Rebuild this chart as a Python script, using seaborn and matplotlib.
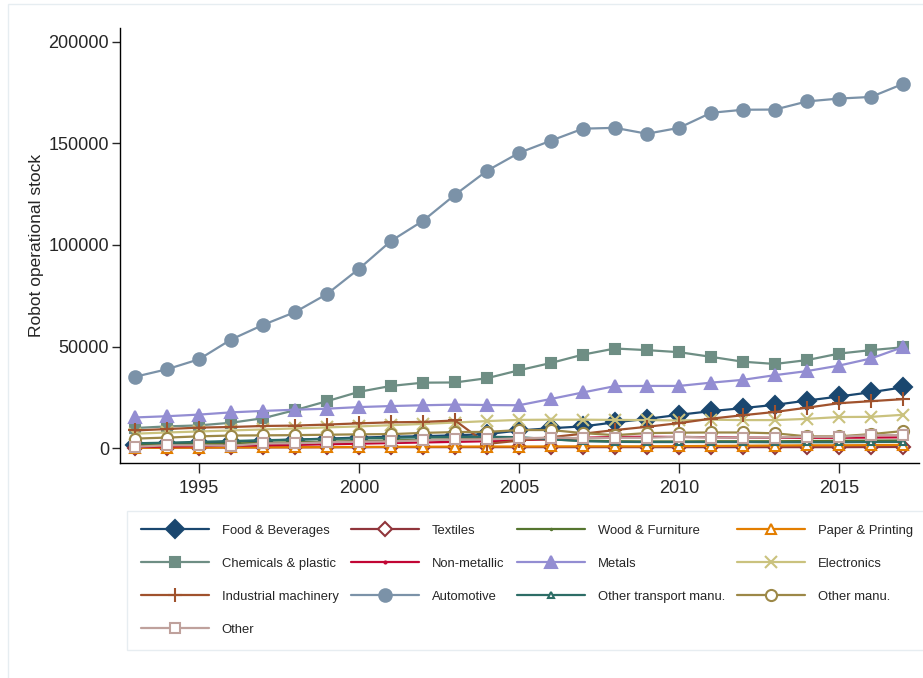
import numpy as np
import pandas as pd
import matplotlib
matplotlib.use("Agg")
import matplotlib.pyplot as plt
from matplotlib.patches import Rectangle
import seaborn as sns

# robot operational stock by industry, 1993-2017
years = list(range(1993, 2018))

food = [1800, 2300, 2800, 3300, 3800, 4300, 4800, 5300, 5700, 6000, 6400, 7000, 8800,
        9900, 10800, 12800, 14500, 16500, 18300, 19800, 21400, 23500, 25500, 27600, 30000]
textiles = [300, 350, 400, 450, 500, 500, 550, 550, 600, 600, 600, 600, 600,
            600, 600, 600, 600, 600, 600, 600, 600, 600, 600, 650, 700]
wood = [1500, 1800, 2100, 2400, 2700, 3000, 3300, 3600, 3900, 4200, 4500, 4700, 4500,
        4300, 3800, 3500, 3400, 3400, 3500, 3500, 3500, 3600, 3700, 3800, 3900]
paper = [300, 350, 400, 450, 500, 550, 600, 700, 750, 800, 850, 900, 900,
         950, 1000, 1000, 1000, 1100, 1200, 1300, 1400, 1500, 1500, 1600, 1700]
chemicals = [10000, 10800, 11300, 12600, 14800, 18800, 23200, 27800, 30700, 32300, 32400, 34500, 38400,
             42000, 46100, 49100, 48300, 47300, 45000, 42600, 41500, 43400, 46600, 48300, 49700]
nonmetallic = [700, 900, 1100, 1300, 1500, 1700, 2000, 2300, 2600, 2900, 3200, 3500, 4000,
               4600, 5200, 5600, 5700, 5600, 5500, 5300, 5200, 5200, 5200, 5300, 5400]
metals = [15200, 15800, 16600, 17700, 18400, 19000, 19500, 20300, 20800, 21200, 21500, 21300, 21200,
          24300, 27500, 30600, 30700, 30700, 32300, 33700, 36000, 38000, 40700, 44200, 49800]
electronics = [7200, 7800, 8300, 8800, 9300, 9800, 10300, 10800, 11400, 12000, 12700, 13400, 14000,
               14100, 14100, 14000, 13900, 13700, 14100, 13900, 13900, 14500, 15400, 15500, 16500]
machinery = [8800, 9500, 10200, 10500, 11000, 11200, 11700, 12300, 12800, 13000, 13700, 2200, 3800,
             5500, 7200, 9000, 10600, 12400, 14600, 16300, 17900, 20000, 22200, 23200, 24200]
automotive = [35200, 38900, 43800, 53500, 60700, 67000, 75900, 88300, 102000, 111900, 124700, 136500, 145300,
              151300, 157200, 157600, 154700, 157600, 165000, 166500, 166600, 170600, 172000, 172800, 179200]
other_transport = [2500, 2800, 3200, 3600, 4000, 4300, 4600, 4900, 5200, 5400, 5600, 5700, 5500,
                   4500, 3500, 3200, 3100, 3100, 3100, 3100, 3000, 3000, 3000, 3100, 3200]
other_manu = [4800, 5300, 5900, 6300, 6400, 6500, 6700, 6900, 7000, 7600, 8000, 8100, 9000,
              9000, 7500, 6500, 7500, 7700, 7800, 7800, 7400, 5900, 5900, 7000, 8500]
other = [800, 1500, 1500, 1300, 2400, 2500, 3000, 3300, 3400, 4000, 4400, 4400, 4900,
         5300, 5000, 5200, 5200, 5700, 5300, 5300, 5300, 5700, 5700, 6500, 6500]

labels = ["Food & Beverages", "Textiles", "Wood & Furniture", "Paper & Printing",
          "Chemicals & plastic", "Non-metallic", "Metals", "Electronics",
          "Industrial machinery", "Automotive", "Other transport manu.", "Other manu.", "Other"]
values = [food, textiles, wood, paper, chemicals, nonmetallic, metals, electronics,
          machinery, automotive, other_transport, other_manu, other]

# stata s2color look
colors = ["#1a476f", "#90353b", "#55752f", "#e37e00", "#6e8e84", "#c10534", "#938dd2",
          "#cac27e", "#a0522d", "#7b92a8", "#2d6d66", "#9c8847", "#bfa19c"]
# (marker, size, filled)
markers = [("D", 9, True), ("D", 7, False), (".", 2, True), ("^", 7, False),
           ("s", 7.5, True), (".", 3, True), ("^", 9, True), ("x", 8, True),
           ("+", 10, True), ("o", 9, True), ("^", 5, False), ("o", 8, False), ("s", 7.5, False)]

sns.set_style("ticks")
plt.rcParams["font.family"] = ["Liberation Sans", "DejaVu Sans"]

fig = plt.figure(figsize=(9.23, 6.78), dpi=100)
ax = fig.add_axes([120 / 923, 1 - 463 / 678, (919 - 120) / 923, (463 - 28) / 678])

for lab, vals, col, (m, ms, filled) in zip(labels, values, colors, markers):
    df = pd.DataFrame({"year": years, "stock": vals})
    sns.lineplot(data=df, x="year", y="stock", ax=ax, color=col, linewidth=1.6,
                 marker=m, markersize=ms, markeredgecolor=col,
                 markerfacecolor=col if filled else "white",
                 markeredgewidth=1.5, label=lab, legend=False)

ax.set_xlim(1992.53, 2017.5)
ax.set_ylim(-7200, 206700)
ax.set_xticks([1995, 2000, 2005, 2010, 2015])
ax.set_yticks([0, 50000, 100000, 150000, 200000])
ax.ticklabel_format(style="plain", axis="y")
ax.set_xlabel("")
ax.set_ylabel("Robot operational stock", fontsize=12.5, labelpad=3)
ax.tick_params(axis="y", labelsize=13, length=6, width=1, pad=2)
ax.tick_params(axis="x", labelsize=13, length=7, width=1, pad=5)
sns.despine(ax=ax)
for s in ["left", "bottom"]:
    ax.spines[s].set_linewidth(1.0)
    ax.spines[s].set_color("black")

handles, labs = ax.get_legend_handles_labels()
if ax.get_legend() is not None:
    ax.get_legend().remove()
# legend is read row by row, matplotlib fills column by column
order = [0, 4, 8, 12, 1, 5, 9, 2, 6, 10, 3, 7, 11]
leg = fig.legend([handles[i] for i in order], [labs[i] for i in order],
                 loc="upper left", bbox_to_anchor=(127 / 923, 1 - 511 / 678),
                 ncol=4, fontsize=9.4, handlelength=5.2, handletextpad=1.0,
                 columnspacing=0.95, labelspacing=1.6, borderpad=1.05,
                 borderaxespad=0.0, frameon=True, fancybox=False, numpoints=1)
leg.get_frame().set_edgecolor("#e1e9ee")
leg.get_frame().set_linewidth(1.0)

# light outer frame as in the stata export
fig.patches.append(Rectangle((8 / 923, -0.1), 1.0, 1.1 - 4 / 678, transform=fig.transFigure,
                             fill=False, edgecolor="#e6edf1", linewidth=1.0))

fig.savefig("out.png", dpi=100)
